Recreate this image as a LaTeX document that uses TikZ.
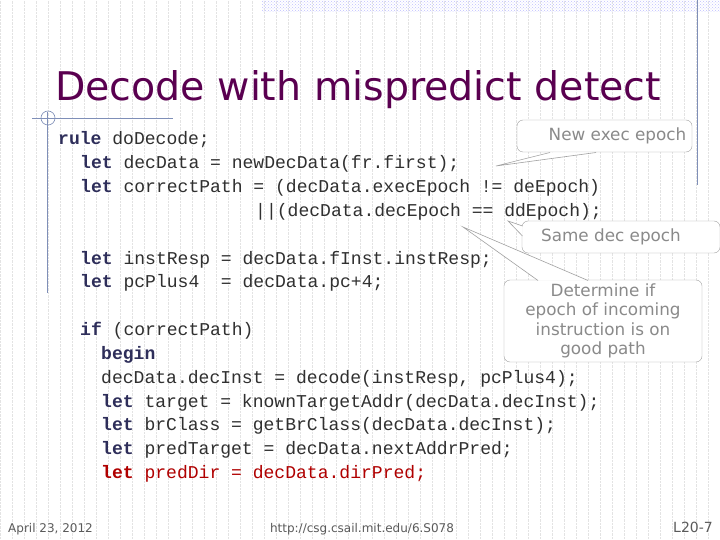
\documentclass[tikz,border=0pt]{standalone}
\usepackage{fontspec}
\setmainfont{DejaVu Sans}
\setmonofont{Liberation Mono}
\usetikzlibrary{patterns}
\definecolor{ttl}{HTML}{5A0050}
\definecolor{kw}{HTML}{2E2E5A}
\definecolor{cd}{HTML}{303030}
\definecolor{rd}{HTML}{B00000}
\definecolor{cg}{HTML}{8A8A8A}
\definecolor{deco}{HTML}{7F8FB8}
\newcommand{\kk}[1]{\textbf{\color{kw}#1}}
\tikzset{
 code/.style={anchor=base west,inner sep=0,font=\ttfamily\fontsize{18.05}{20}\selectfont,text=cd},
 call/.style={draw=cg!80,rounded corners=6pt,fill=white,text=cg,font=\fontsize{16.8}{19.5}\selectfont,align=center,inner sep=2pt},
 ptr/.style={draw=cg!80,fill=white,line width=0.6pt},
 foot/.style={text=cd!80,font=\fontsize{12}{14}\selectfont,inner sep=0}
}
\begin{document}
\begin{tikzpicture}[x=1pt,y=-1pt]
\useasboundingbox (0,0) rectangle (720,540);
\fill[white] (0,0) rectangle (720,540);
\draw[gray!22,densely dotted,line width=0.4pt,step=12] (0,0) grid (720,540);
\fill[pattern=crosshatch dots,pattern color=blue!25] (262,0) rectangle (720,12);
\draw[deco,line width=0.8pt] (697,0) -- (697,185);
\draw[deco,line width=0.8pt] (32,118) -- (173,118);
\draw[deco,line width=0.8pt] (47,112) -- (47,293);
\draw[deco,line width=0.6pt] (48,118) circle (7);
\node[anchor=base west,inner sep=0,text=ttl,font=\fontsize{39.5}{42}\selectfont] (title) at (55,101) {Decode with mispredict detect};
\node[code] (l1) at (58,145) {\kk{rule} doDecode;};
\node[code] (l2) at (80,169) {\kk{let} decData = newDecData(fr.first);};
\node[code] (l3) at (80,193) {\kk{let} correctPath = (decData.execEpoch != deEpoch)};
\node[code] (l4) at (255,217) {||(decData.decEpoch == ddEpoch);};
\node[code] (l5) at (80,264) {\kk{let} instResp = decData.fInst.instResp;};
\node[code] (l6) at (80,287) {\kk{let} pcPlus4\ \ = decData.pc+4;};
\node[code] (l7) at (80,335) {\kk{if} (correctPath)};
\node[code] (l8) at (101,359) {\kk{begin}};
\node[code] (l9) at (101,383) {decData.decInst = decode(instResp, pcPlus4);};
\node[code] (l10) at (101,407) {\kk{let} target = knownTargetAddr(decData.decInst);};
\node[code] (l11) at (101,430) {\kk{let} brClass = getBrClass(decData.decInst);};
\node[code] (l12) at (101,454) {\kk{let} predTarget = decData.nextAddrPred;};
\node[code,text=rd] (l13) at (101,478) {\textbf{let} predDir = decData.dirPred;};
% callouts
\node[call,minimum width=175,minimum height=32] (c1) at (604.5,136) {\hspace*{26pt}New exec epoch};
\node[call,minimum width=198,minimum height=32] (c2) at (621,237) {\hspace*{-20pt}Same dec epoch};
\node[call,minimum width=198,minimum height=82] (c3) at (603,321) {Determine if\\epoch of incoming\\instruction is on\\good path};
\coordinate (t1) at (496,166);
\coordinate (t2) at (508,221);
\coordinate (t3) at (463,227);
\draw[ptr] (550,152.5) -- (t1) -- (596,152.5);
\draw[ptr] (522.5,226) -- (t2) -- (522.5,236);
\draw[ptr] (538,280.5) -- (t3) -- (588,280.5);
\node[foot,anchor=base west] (f1) at (8,532) {April 23, 2012};
\node[foot,anchor=base] (f2) at (362,532) {http://csg.csail.mit.edu/6.S078};
\node[foot,anchor=base east,font=\fontsize{14}{16}\selectfont] (f3) at (713,532) {L20-7};
\end{tikzpicture}
\end{document}
